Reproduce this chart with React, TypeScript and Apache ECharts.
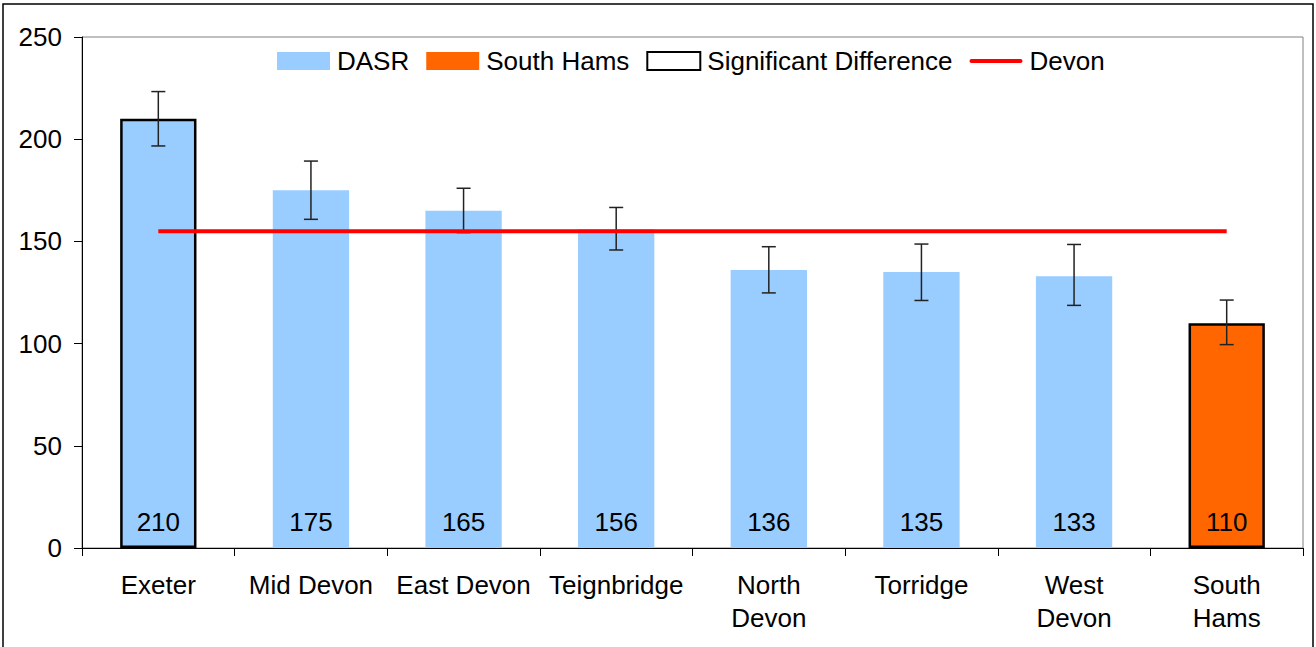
import React, { useEffect, useRef } from "react";
import * as echarts from "echarts";

const categories = ["Exeter", "Mid Devon", "East Devon", "Teignbridge", "North\nDevon", "Torridge", "West\nDevon", "South\nHams"];
const dasrValues = [210, 175, 165, 156, 136, 135, 133, 110];
const lowerCI = [196.7, 160.8, 154.3, 145.8, 124.8, 121.1, 118.7, 99.5];
const upperCI = [223.3, 189.3, 176.0, 166.6, 147.4, 148.7, 148.5, 121.3];
const devonValues = [155, 155, 155, 155, 155, 155, 155, 155];
const significant = [true, false, false, false, false, false, false, true];
const isSouthHams = [false, false, false, false, false, false, false, true];
const legendNames = ["DASR", "South Hams", "Significant Difference", "Devon"];

const FONT = "'Liberation Sans', Arial, sans-serif";
const FS = 26;

export default function App() {
  const ref = useRef<HTMLDivElement>(null);
  useEffect(() => {
    if (!ref.current) return;
    const chart = echarts.init(ref.current, undefined, { renderer: "svg" });
    const barData = dasrValues.map((v, i) => ({
      value: v,
      itemStyle: {
        color: isSouthHams[i] ? "#FF6600" : "#99CCFF",
        borderColor: "#000",
        borderWidth: significant[i] ? 2.5 : 0,
      },
    }));
    const errData = dasrValues.map((_, i) => [i, lowerCI[i], upperCI[i]]);
    chart.setOption({
      animation: false,
      textStyle: { fontFamily: FONT },
      graphic: [
        {
          type: "rect",
          shape: { x: 3, y: 4, width: 1310, height: 700 },
          style: { fill: "none", stroke: "#000", lineWidth: 1.5 },
          silent: true,
        },
      ],
      grid: {
        left: 82,
        top: 37,
        right: 13,
        bottom: 99,
        show: true,
        borderColor: "#808080",
        borderWidth: 1,
        backgroundColor: "transparent",
      },
      legend: {
        left: 277,
        top: 48,
        padding: 0,
        itemWidth: 53,
        itemHeight: 18,
        itemGap: 17,
        selectedMode: false,
        textStyle: { fontSize: FS, color: "#000", fontFamily: FONT, padding: [0, 0, 0, 2] },
        data: [
          { name: legendNames[0], icon: "rect", itemStyle: { color: "#99CCFF", borderWidth: 0, opacity: 1 } },
          { name: legendNames[1], icon: "rect", itemStyle: { color: "#FF6600", borderWidth: 0, opacity: 1 } },
          { name: legendNames[2], icon: "rect", itemStyle: { color: "#fff", borderColor: "#000", borderWidth: 2, opacity: 1 } },
          {
            name: legendNames[3],
            icon: "path://M2,0 L51,0 A2,2 0 0 1 51,4 L2,4 A2,2 0 0 1 2,0 Z",
            itemStyle: { color: "#FF0000", borderWidth: 0, opacity: 1 },
          },
        ],
      },
      xAxis: {
        type: "category",
        data: categories,
        boundaryGap: true,
        axisLine: { lineStyle: { color: "#000", width: 1 } },
        axisTick: { show: true, length: 8, alignWithLabel: false, lineStyle: { color: "#000" } },
        axisLabel: { fontSize: FS, color: "#000", margin: 20, lineHeight: 33, interval: 0, fontFamily: FONT },
      },
      yAxis: {
        type: "value",
        min: 0,
        max: 250,
        interval: 50,
        axisLine: { show: true, lineStyle: { color: "#000", width: 1 } },
        axisTick: { show: true, length: 8, lineStyle: { color: "#000" } },
        axisLabel: { fontSize: FS, color: "#000", margin: 20, fontFamily: FONT },
        splitLine: { show: false },
      },
      series: [
        {
          name: legendNames[0],
          type: "bar",
          data: barData,
          barWidth: "50%",
          z: 2,
          label: {
            show: true,
            position: "insideBottom",
            distance: 13,
            fontSize: FS,
            color: "#000",
            fontFamily: FONT,
          },
        },
        { name: legendNames[1], type: "scatter", data: [], itemStyle: { color: "#FF6600", opacity: 1 } },
        { name: legendNames[2], type: "scatter", data: [], itemStyle: { color: "#fff", borderColor: "#000", borderWidth: 2, opacity: 1 } },
        {
          name: "errors",
          type: "custom",
          z: 3,
          data: errData,
          renderItem: (params: any, api: any) => {
            const x = api.value(0);
            const lo = api.coord([x, api.value(1)]);
            const hi = api.coord([x, api.value(2)]);
            const hw = 7;
            const style = { stroke: "#222", lineWidth: 1.5 };
            return {
              type: "group",
              children: [
                { type: "line", shape: { x1: lo[0], y1: lo[1], x2: hi[0], y2: hi[1] }, style },
                { type: "line", shape: { x1: lo[0] - hw, y1: lo[1], x2: lo[0] + hw, y2: lo[1] }, style },
                { type: "line", shape: { x1: hi[0] - hw, y1: hi[1], x2: hi[0] + hw, y2: hi[1] }, style },
              ],
            };
          },
        },
        {
          name: legendNames[3],
          type: "line",
          data: devonValues,
          symbol: "none",
          z: 4,
          lineStyle: { color: "#FF0000", width: 4 },
          itemStyle: { color: "#FF0000" },
        },
      ],
    });
    return () => chart.dispose();
  }, []);
  return <div ref={ref} style={{ position: "fixed", left: 0, top: 0, width: 1316, height: 647, background: "#fff" }} />;
}
